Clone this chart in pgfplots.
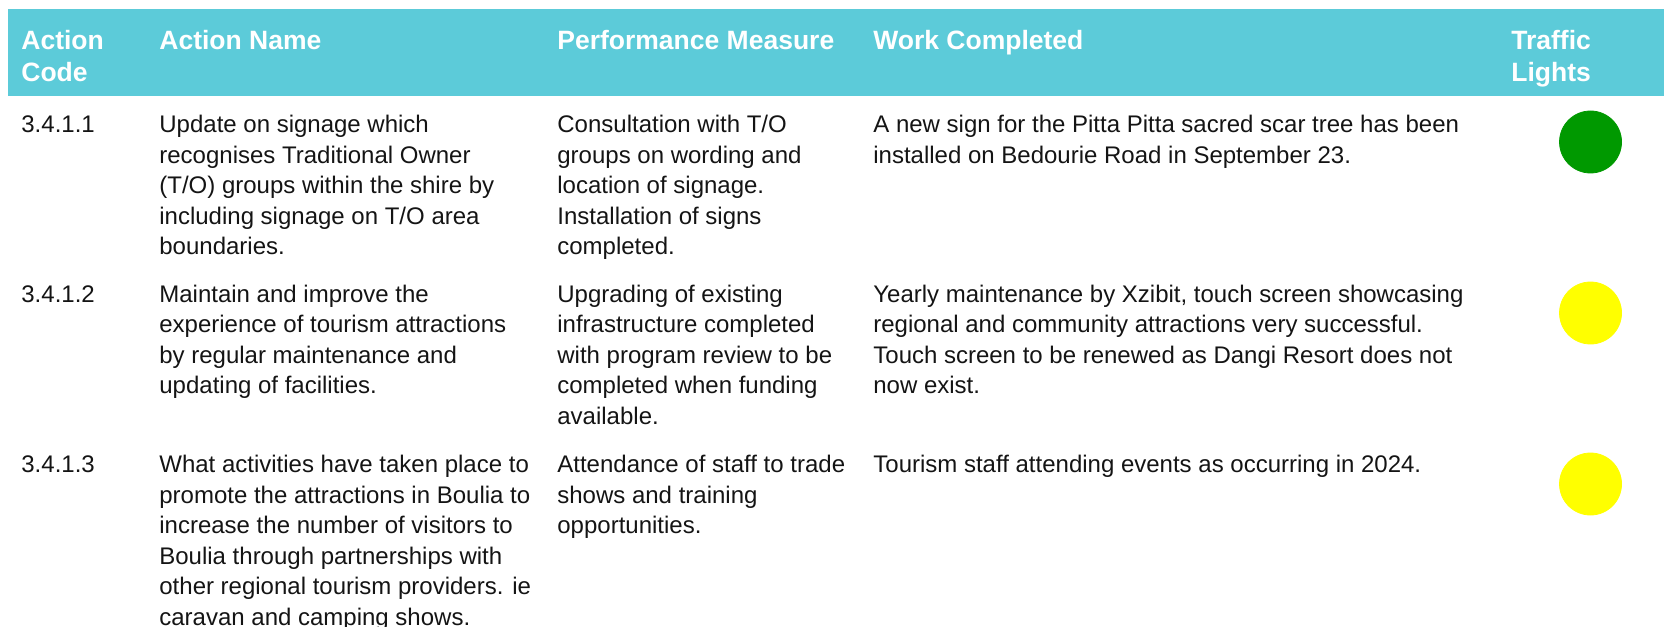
\documentclass[border=0pt]{standalone}
\usepackage{pgfplots}
\pgfplotsset{compat=1.18}
\usepackage{fontspec}
\setmainfont{Liberation Sans}
\definecolor{hdr}{RGB}{92,203,217}
\definecolor{tlgreen}{RGB}{0,153,0}
\definecolor{tlyellow}{RGB}{255,255,0}
\definecolor{txt}{RGB}{20,20,20}
\newcommand\BodyL[3]{\node[anchor=base west,inner sep=0pt,text=txt,font=\fontsize{12bp}{14bp}\selectfont] at (#1,#2) {#3};}
\newcommand\HeadL[3]{\node[anchor=base west,inner sep=0pt,text=white,font=\fontsize{13.25bp}{15bp}\selectfont\bfseries] at (#1,#2) {#3};}
\begin{document}
\begin{tikzpicture}
\begin{axis}[at={(0,0)}, anchor=south west, scale only axis,
  width=832bp, height=313.5bp, xmin=0, xmax=1664, ymin=0, ymax=627,
  y dir=reverse, hide axis, clip=false]
% traffic lights: status per action (x = column centre, y = row position)
\addplot[only marks, mark=*, mark size=15.5bp, color=tlgreen, mark options={draw=tlgreen, fill=tlgreen}] coordinates {(1590.5,142)};
\addplot[only marks, mark=*, mark size=15.5bp, color=tlyellow, mark options={draw=tlyellow, fill=tlyellow}] coordinates {(1590.5,313) (1590.5,484)};
\end{axis}
\begin{scope}[yshift=313.5bp, x=0.5bp, y=-0.5bp]
\fill[hdr] (8.5,9) rectangle (1664,96);
\HeadL{21}{49.7}{Action}
\HeadL{21}{81.5}{Code}
\HeadL{159}{49.7}{Action Name}
\HeadL{557}{49.7}{Performance Measure}
\HeadL{873}{49.7}{Work Completed}
\HeadL{1511}{49.7}{Traffic}
\HeadL{1511}{81.5}{Lights}
% row 1
\BodyL{21}{132.6}{3.4.1.1}
\BodyL{159}{132.6}{Update on signage which}
\BodyL{159}{163.1}{recognises Traditional Owner}
\BodyL{159}{193.6}{(T/O) groups within the shire by}
\BodyL{159}{224.1}{including signage on T/O area}
\BodyL{159}{254.6}{boundaries.}
\BodyL{557}{132.6}{Consultation with T/O}
\BodyL{557}{163.1}{groups on wording and}
\BodyL{557}{193.6}{location of signage.}
\BodyL{557}{224.1}{Installation of signs}
\BodyL{557}{254.6}{completed.}
\BodyL{873}{132.6}{A new sign for the Pitta Pitta sacred scar tree has been}
\BodyL{873}{163.1}{installed on Bedourie Road in September 23.}
% row 2
\BodyL{21}{302.5}{3.4.1.2}
\BodyL{159}{302.5}{Maintain and improve the}
\BodyL{159}{333}{experience of tourism attractions}
\BodyL{159}{363.5}{by regular maintenance and}
\BodyL{159}{394}{updating of facilities.}
\BodyL{557}{302.5}{Upgrading of existing}
\BodyL{557}{333}{infrastructure completed}
\BodyL{557}{363.5}{with program review to be}
\BodyL{557}{394}{completed when funding}
\BodyL{557}{424.5}{available.}
\BodyL{873}{302.5}{Yearly maintenance by Xzibit, touch screen showcasing}
\BodyL{873}{333}{regional and community attractions very successful.}
\BodyL{873}{363.5}{Touch screen to be renewed as Dangi Resort does not}
\BodyL{873}{394}{now exist.}
% row 3
\BodyL{21}{473}{3.4.1.3}
\BodyL{159}{473}{What activities have taken place to}
\BodyL{159}{503.5}{promote the attractions in Boulia to}
\BodyL{159}{534}{increase the number of visitors to}
\BodyL{159}{564.5}{Boulia through partnerships with}
\BodyL{159}{595}{other regional tourism providers. ie}
\BodyL{159}{625.5}{caravan and camping shows.}
\BodyL{557}{473}{Attendance of staff to trade}
\BodyL{557}{503.5}{shows and training}
\BodyL{557}{534}{opportunities.}
\BodyL{873}{473}{Tourism staff attending events as occurring in 2024.}
\end{scope}
\pgfresetboundingbox
\path (0,0) rectangle (832bp,313.5bp);
\end{tikzpicture}
\end{document}
